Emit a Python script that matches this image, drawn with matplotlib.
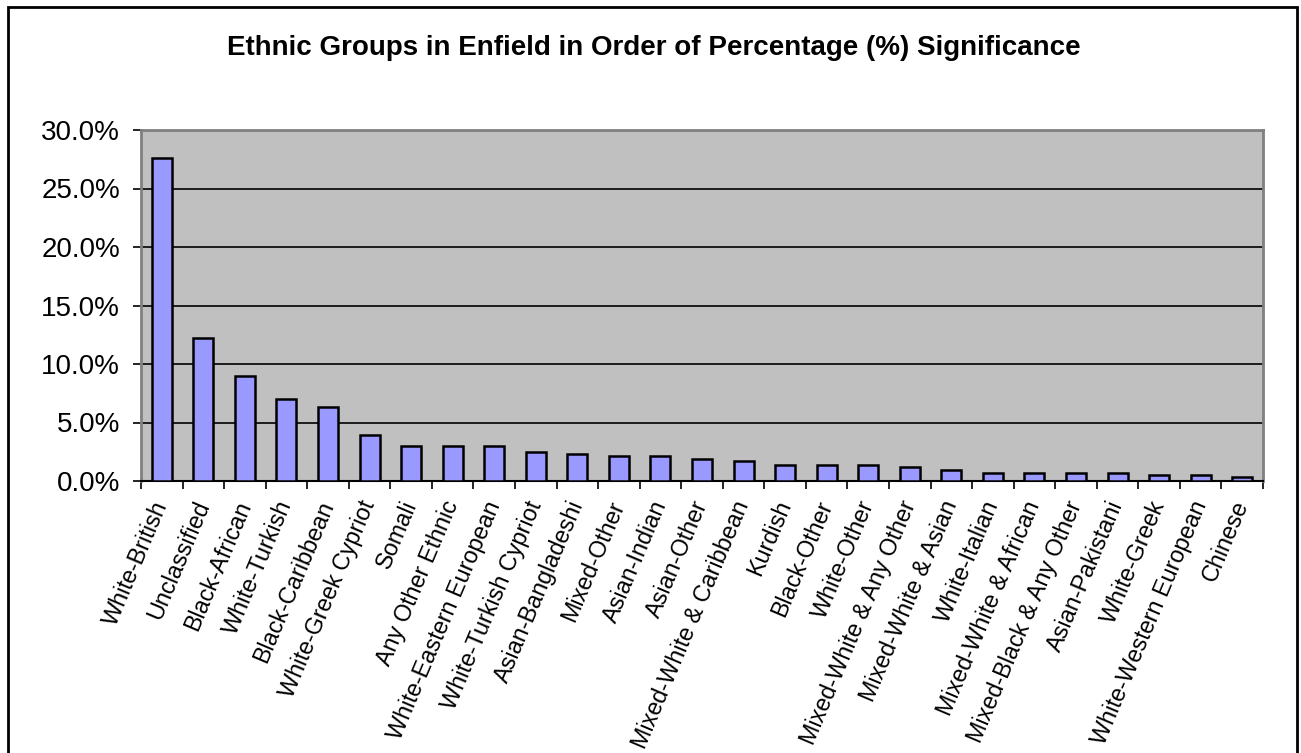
import numpy as np
import matplotlib
matplotlib.use("Agg")
import matplotlib.pyplot as plt
from matplotlib.patches import Rectangle
from matplotlib.ticker import FuncFormatter, FixedLocator

# Ethnic groups in Enfield, percentages
groups = ["White-British", "Unclassified", "Black-African", "White-Turkish",
          "Black-Caribbean", "White-Greek Cypriot", "Somali", "Any Other Ethnic",
          "White-Eastern European", "White-Turkish Cypriot", "Asian-Bangladeshi",
          "Mixed-Other", "Asian-Indian", "Asian-Other", "Mixed-White & Caribbean",
          "Kurdish", "Black-Other", "White-Other", "Mixed-White & Any Other",
          "Mixed-White & Asian", "White-Italian", "Mixed-White & African",
          "Mixed-Black & Any Other", "Asian-Pakistani", "White-Greek",
          "White-Western European", "Chinese"]
percent = [27.6, 12.2, 9.0, 7.0, 6.3, 3.9, 3.0, 3.0, 3.0, 2.5, 2.3,
           2.1, 2.1, 1.9, 1.75, 1.35, 1.35, 1.35, 1.2, 0.9, 0.7,
           0.7, 0.7, 0.7, 0.55, 0.55, 0.35]
yticks = [0, 5, 10, 15, 20, 25, 30]

plt.rcParams["font.family"] = ["Liberation Sans", "DejaVu Sans"]

W, H = 1301, 753
fig = plt.figure(figsize=(W / 100, H / 100), dpi=100)
fig.patch.set_facecolor("white")

# outer chart border
fig.patches.append(Rectangle((8 / W, -0.02), (1297 - 8) / W, (H - 7) / H + 0.02,
                             transform=fig.transFigure, fill=False,
                             edgecolor="black", linewidth=2))

left, right, top, bottom = 141, 1263, 130, 481
ax = fig.add_axes([left / W, (H - bottom) / H, (right - left) / W, (bottom - top) / H])
ax.set_facecolor("#C0C0C0")

x = np.arange(len(groups))
ax.bar(x, percent, width=0.48, color="#9999FF", edgecolor="black", linewidth=1.8, zorder=3)

ax.set_xlim(-0.5, len(groups) - 0.5)
ax.set_ylim(0, 30)
ax.set_yticks(yticks)
ax.yaxis.set_major_formatter(FuncFormatter(lambda v, pos: f"{v:.1f}%"))
ax.grid(axis="y", color="black", linewidth=1.2, zorder=1)

ax.set_xticks(x)
ax.set_xticklabels(groups, rotation=67, ha="right", va="center", rotation_mode="anchor")
ax.xaxis.set_minor_locator(FixedLocator(np.arange(-0.5, len(groups), 1.0)))
ax.tick_params(axis="x", which="major", length=0, pad=15, labelsize=16.8)
ax.tick_params(axis="x", which="minor", length=6, width=1.2, color="black", direction="out")
ax.tick_params(axis="y", length=6, width=1.2, color="black", pad=9, labelsize=20)

for s in ax.spines.values():
    s.set_color("#808080")
    s.set_linewidth(2)
ax.spines["bottom"].set_color("black")
ax.spines["bottom"].set_linewidth(1.5)

fig.text(654 / W, 1 - 48 / H, "Ethnic Groups in Enfield in Order of Percentage (%) Significance",
         ha="center", va="center", fontsize=20, fontweight="bold")

fig.savefig("out.png", dpi=100)
